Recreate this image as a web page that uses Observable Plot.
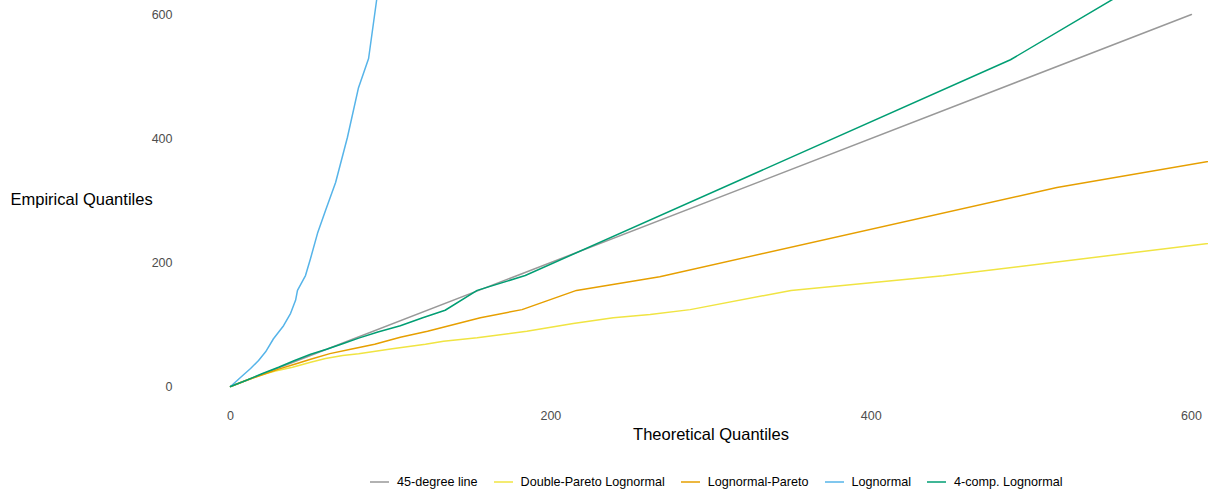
<!DOCTYPE html>
<html>
<head>
<meta charset="utf-8">
<script src="https://cdn.jsdelivr.net/npm/d3@7"></script>
<script src="https://cdn.jsdelivr.net/npm/@observablehq/plot@0.6"></script>
<style>
  html, body { margin: 0; padding: 0; background: #ffffff; overflow: hidden; }
  body { width: 1208px; height: 490px; font-family: "Liberation Sans", Arial, Helvetica, sans-serif; }
  #chart svg { display: block; }
  .legend { display: flex; align-items: center; margin-left: 369px; height: 24px; margin-top: 5px; font-size: 12.6px; color: #000; white-space: nowrap; }
  .legend .item { display: flex; align-items: center; margin-right: 15px; }
  .legend svg { margin-right: 7px; }
</style>
</head>
<body>
<div id="chart"></div>
<div class="legend" id="legend"></div>
<script>
// Series names and colours (Okabe–Ito palette)
const seriesNames = ["45-degree line", "Double-Pareto Lognormal", "Lognormal-Pareto", "Lognormal", "4-comp. Lognormal"];
const seriesColors = ["#999999", "#F0E442", "#E69F00", "#56B4E9", "#009E73"];

// Q-Q points: [theoretical quantile, empirical quantile]
const line45 = [[0, 0], [600, 600]];
const dpln = [[0, 0], [8, 8], [17.5, 17.5], [28, 25], [38.7, 31], [50, 39], [59.3, 45], [70, 50], [80, 53],
  [101, 61], [121.7, 68], [133, 73], [154, 78.5], [185, 89], [214, 101.6], [239, 111], [262, 116],
  [287, 124], [350, 155], [445, 178.5], [640, 240]];
const lnPareto = [[0, 0], [10, 10], [20, 19], [30, 28], [40, 36], [50, 44], [62, 53], [75, 60], [90, 68],
  [106, 79.5], [123, 89], [156, 111], [182, 124], [216, 155], [268, 177], [516, 321], [640, 376]];
const lognormal = [[0, 0], [6.2, 14.5], [12.5, 29], [17.5, 42], [21.9, 56], [26.8, 77], [33.1, 98],
  [37.5, 118], [40.6, 139], [41.8, 155], [46.8, 179], [49.9, 206], [54.3, 247], [59.3, 284],
  [65.6, 329], [73, 402], [79.9, 482], [86.2, 529], [91.2, 623], [96, 715]];
const comp4 = [[0, 0], [10, 10], [20, 21], [30, 31], [40, 42], [50, 52], [60, 60], [70, 69], [80, 78],
  [92, 88], [106, 98], [120, 111], [134, 123], [154, 155], [184, 179], [487, 527], [620, 730]];

// Axis ticks and limits (limits padded 5% on each side)
const xTicks = [0, 200, 400, 600];
const yTicks = [0, 200, 400, 600];
const limits = [0, 600];
const pad = 0.05 * (limits[1] - limits[0]);
const domain = [limits[0] - pad, limits[1] + pad];

const seriesData = [line45, dpln, lnPareto, lognormal, comp4];
const rows = seriesData.flatMap((pts, i) => pts.map(([q, e]) => ({series: seriesNames[i], theo: q, emp: e})));

const W = 1208, H = 465;
const mL = 182, mB = 60.4;

const chart = Plot.plot({
  width: W,
  height: H,
  marginLeft: mL,
  marginRight: 0,
  marginTop: 0,
  marginBottom: mB,
  style: {fontFamily: '"Liberation Sans", Arial, Helvetica, sans-serif', fontSize: "12.5px", background: "#ffffff", color: "#4D4D4D"},
  x: {domain, range: [mL, mL + 1057], ticks: xTicks, tickSize: 0, tickPadding: 6, label: null, tickFormat: d3.format("d")},
  y: {domain, range: [H - mB, H - mB - 409.2], ticks: yTicks, tickSize: 0, tickPadding: 10, label: null, tickFormat: d3.format("d")},
  color: {domain: seriesNames, range: seriesColors},
  marks: [
    Plot.line(rows, {x: "theo", y: "emp", z: "series", stroke: "series", strokeWidth: 1.5, clip: true}),
    Plot.text(["Theoretical Quantiles"], {x: () => (domain[0] + domain[1]) / 2, frameAnchor: "bottom", dy: 35, fontSize: 16.5, fill: "#000000"}),
    Plot.text(["Empirical Quantiles"], {frameAnchor: "left", dx: -172, dy: -3, textAnchor: "start", fontSize: 16.5, fill: "#000000"})
  ]
});
document.getElementById("chart").appendChild(chart);

// Legend below the plot
const legend = d3.select("#legend");
seriesNames.forEach((name, i) => {
  const item = legend.append("div").attr("class", "item");
  const key = item.append("svg").attr("width", 21).attr("height", 12);
  key.append("line").attr("x1", 1).attr("x2", 20).attr("y1", 6).attr("y2", 6)
    .attr("stroke", seriesColors[i]).attr("stroke-width", 1.5);
  item.append("span").text(name);
});
</script>
</body>
</html>
